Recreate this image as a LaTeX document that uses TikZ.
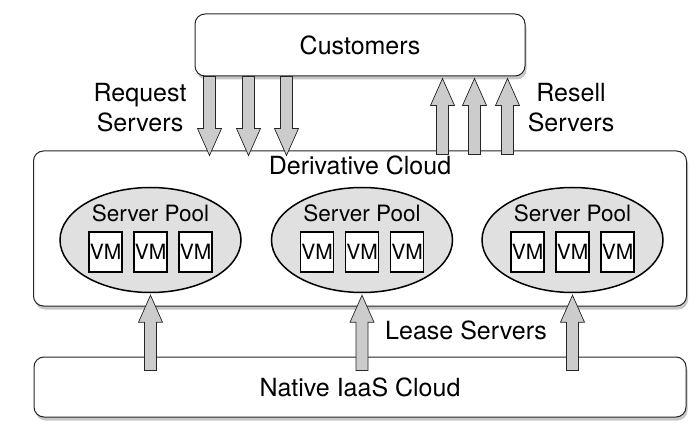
\documentclass[tikz,border=0pt]{standalone}
\usepackage{fontspec}
\setmainfont{TeX Gyre Heros}
\usetikzlibrary{positioning,calc,shapes.geometric,shadows}
\definecolor{poolgray}{gray}{0.88}
\definecolor{arrowgray}{gray}{0.80}
\definecolor{edgegray}{gray}{0.15}
\tikzset{
    cloudbox/.style={rectangle, rounded corners=10pt, draw=edgegray, line width=1pt, fill=white,
                    drop shadow={shadow xshift=1.5pt, shadow yshift=-3.5pt, opacity=0.45}},
    pool/.style={ellipse, draw=black, line width=1.5pt, fill=poolgray,
                    minimum width=181pt, minimum height=105pt, inner sep=0pt},
    vmbox/.style={rectangle, draw=black, line width=1.6pt, fill=white,
                    minimum width=33pt, minimum height=40pt, inner sep=0pt,
                    font=\fontsize{21}{24}\selectfont},
    fatarrow/.style={fill=arrowgray, draw=edgegray, line width=0.7pt, line join=miter}}
% wide hollow arrow from #1 to #2 (vertical only)
\newcommand{\fatarrow}[2]{%
    \draw[fatarrow] let \p1=(#1), \p2=(#2), \n1={\y2-27*sign(\y2-\y1)} in
        (\x1-6pt,\y1) -- (\x1-6pt,\n1) -- (\x1-12pt,\n1) -- (\x1,\y2)
        -- (\x1+12pt,\n1) -- (\x1+6pt,\n1) -- (\x1+6pt,\y1) -- cycle;}

\begin{document}
\begin{tikzpicture}[x=1pt, y=1pt, font=\fontsize{25}{30}\selectfont, node distance=28pt]
    \useasboundingbox (0,0) rectangle (700,439);
    % the three clouds
    \node[cloudbox, minimum width=330pt, minimum height=62pt]
        (customers) at (360,394) {Customers};
    \node[cloudbox, minimum width=653pt, minimum height=155pt, below=74pt of customers]
        (derivative) {};
    \node[cloudbox, minimum width=652pt, minimum height=60pt, below=50pt of derivative]
        (native) {Native IaaS Cloud};
    \node (dlabel) at ([yshift=-15pt]derivative.north) {Derivative Cloud};

    % server pools
    \node[pool] (pool2) at (362,199) {};
    \node[pool, left=29pt of pool2] (pool1) {};
    \node[pool, right=28pt of pool2] (pool3) {};
    \foreach \j in {1,2,3}{
        \node[font=\fontsize{22.5}{26}\selectfont] (title\j) at ([yshift=27pt]pool\j.center) {Server Pool};
        \foreach \v [count=\k] in {-45,0,45}
            \node[vmbox] (vm\j\k) at ([xshift=\v pt, yshift=-12pt]pool\j.center) {VM};
    }

    % labels
    \node[align=center] (request) at (140,331) {Request\\Servers};
    \node[align=center] (resell) at (571,331) {Resell\\Servers};
    \node (leaselabel) at (466,109) {Lease Servers};

    % arrows
    \foreach \dx [count=\i] in {15,54,92}{
        \coordinate (req\i) at ([xshift=\dx pt]customers.south west);
        \fatarrow{req\i}{$(req\i |- derivative.north)+(0,-5)$}
    }
    \foreach \dx [count=\i] in {83,51,18}{
        \coordinate (sell\i) at ($(customers.south east |- derivative.north)+(-\dx,-4)$);
        \fatarrow{sell\i}{$(sell\i |- customers.south)+(0,-2)$}
    }
    \foreach \j in {1,2,3}{
        \coordinate (lease\j) at ($(pool\j.south |- native.north)+(0,-14)$);
        \fatarrow{lease\j}{$(pool\j.south)+(0,-2)$}
    }
\end{tikzpicture}
\end{document}
